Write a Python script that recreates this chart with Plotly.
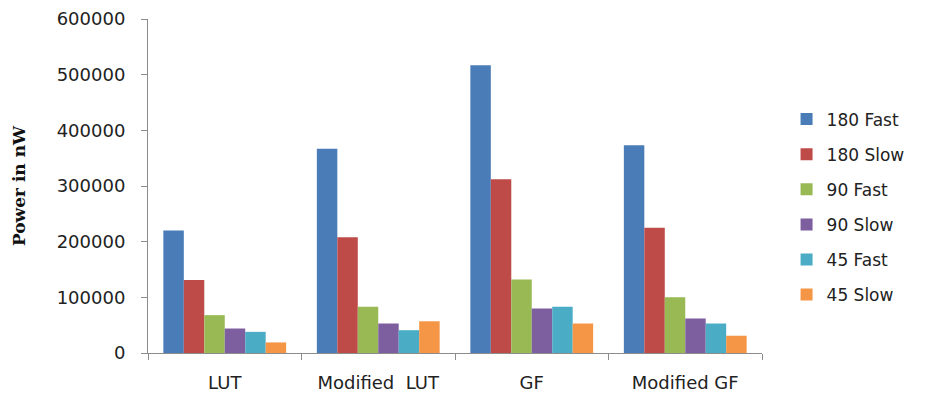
import plotly.graph_objects as go

# Power consumption per implementation and configuration
categories = ["LUT", "Modified  LUT", "GF", "Modified GF"]
series_names = ["180 Fast", "180 Slow", "90 Fast", "90 Slow", "45 Fast", "45 Slow"]
fast_180 = [220000, 367000, 517000, 373000]
slow_180 = [131000, 208000, 312000, 225000]
fast_90 = [68000, 83000, 132000, 100000]
slow_90 = [44000, 53000, 80000, 62000]
fast_45 = [38000, 41000, 83000, 53000]
slow_45 = [19000, 57000, 53000, 31000]
y_ticks = [0, 100000, 200000, 300000, 400000, 500000, 600000]

series_values = [fast_180, slow_180, fast_90, slow_90, fast_45, slow_45]
colors = ["#4A7CB8", "#BE4B48", "#98B954", "#7D5FA0", "#4AACC5", "#F59646"]

fig = go.Figure()
for name, vals, col in zip(series_names, series_values, colors):
    fig.add_trace(go.Bar(
        x=categories, y=vals, name=name,
        marker=dict(color=col, line=dict(width=0)),
        legendgroup=name,
    ))

axis_col = "#8c8c8c"
fig.update_layout(
    width=927, height=395,
    margin=dict(l=148, r=165, t=19, b=42, autoexpand=False),
    paper_bgcolor="white", plot_bgcolor="white",
    barmode="group", bargap=0.2, bargroupgap=0,
    showlegend=True,
    legend=dict(
        x=1.04, xref="paper", xanchor="left",
        y=0.437, yanchor="middle",
        font=dict(family="DejaVu Sans", size=17, color="#222"),
        tracegroupgap=10,
        itemwidth=30,
        bgcolor="rgba(0,0,0,0)",
    ),
    xaxis=dict(
        type="category",
        automargin=False,
        showline=True, linecolor=axis_col, linewidth=1,
        ticks="outside", tickson="boundaries", ticklen=6, tickcolor=axis_col,
        showgrid=False, zeroline=False,
        tickfont=dict(family="DejaVu Sans", size=18, color="#222"),
        ticklabelstandoff=13,
    ),
    yaxis=dict(
        range=[0, 600000],
        automargin=False,
        tickvals=y_ticks,
        ticktext=[str(v) for v in y_ticks],
        showline=True, linecolor=axis_col, linewidth=1,
        ticks="outside", ticklen=6, tickcolor=axis_col,
        showgrid=False, zeroline=False,
        tickfont=dict(family="DejaVu Sans", size=18, color="#222"),
        ticklabelstandoff=12,
        title=dict(
            text="Power in nW",
            font=dict(family="DejaVu Serif", size=17, color="#111", weight="bold"),
            standoff=26,
        ),
    ),
)

fig.write_html("out.html")
